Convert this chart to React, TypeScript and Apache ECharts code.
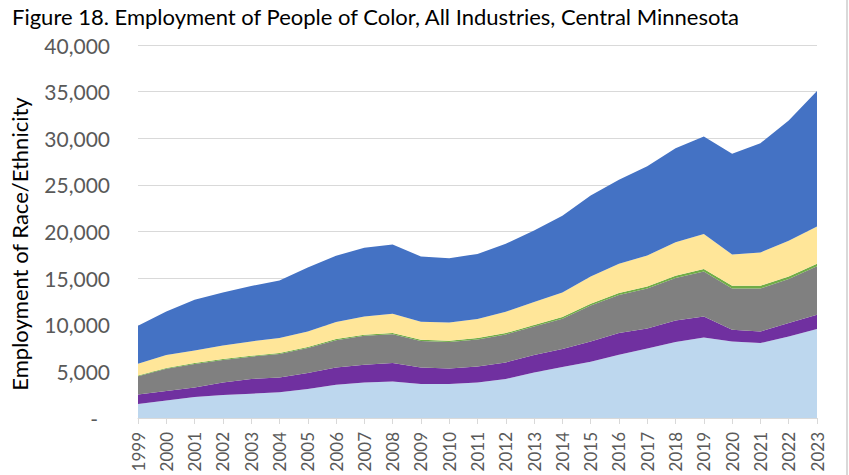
import React, { useEffect, useRef } from "react";
import * as echarts from "echarts";

const years = ["1999","2000","2001","2002","2003","2004","2005","2006","2007","2008","2009","2010","2011","2012","2013","2014","2015","2016","2017","2018","2019","2020","2021","2022","2023"];

const black = [1500,1890,2250,2460,2600,2750,3110,3570,3820,3920,3640,3640,3820,4180,4890,5460,6030,6780,7450,8150,8640,8210,8040,8750,9540];
const amIndian = [1030,1000,1030,1360,1580,1600,1710,1850,1890,1970,1780,1680,1710,1780,1860,1930,2180,2330,2150,2310,2250,1250,1240,1430,1530];
const asian = [1960,2380,2520,2400,2400,2520,2680,2930,3100,3090,2840,2830,2900,3000,3060,3260,3850,4090,4290,4560,4830,4440,4610,4730,5210];
const pacific = [80,90,90,100,100,100,110,120,120,130,130,130,140,150,160,170,190,200,210,230,250,280,290,270,260];
const twoOrMore = [1250,1390,1360,1460,1530,1600,1670,1820,1960,2070,1930,1970,2040,2290,2460,2640,2930,3140,3330,3610,3750,3350,3570,3820,4000];
const hispanic = [4080,4680,5430,5680,5940,6180,6860,7100,7360,7430,7000,6890,6990,7290,7680,8220,8680,9000,9570,10080,10460,10800,11720,12900,14540];

const seriesDefs = [
  { name: "Black or African American", data: black, color: "#BDD7EE" },
  { name: "American Indian and Alaska Native", data: amIndian, color: "#7030A0" },
  { name: "Asian", data: asian, color: "#808080" },
  { name: "Native Hawaiian or Other Pacific Islander", data: pacific, color: "#70AD47" },
  { name: "Two or More Races", data: twoOrMore, color: "#FFE699" },
  { name: "Hispanic or Latino", data: hispanic, color: "#4472C4" },
];

const FONT = "Lato";

export default function App() {
  const ref = useRef<HTMLDivElement>(null);
  useEffect(() => {
    if (!ref.current) return;
    const chart = echarts.init(ref.current, undefined, { renderer: "svg" });
    chart.setOption({
      animation: false,
      backgroundColor: "#ffffff",
      title: {
        text: "Figure 18. Employment of People of Color, All Industries, Central Minnesota",
        left: 12,
        top: 3,
        padding: 0,
        textStyle: { fontFamily: FONT, fontSize: 22, fontWeight: "normal", color: "#000000", lineHeight: 26 },
      },
      grid: { left: 138, right: 32, top: 45, bottom: 57 },
      xAxis: {
        type: "category",
        data: years,
        boundaryGap: false,
        axisLine: { lineStyle: { color: "#d9d9d9", width: 1 } },
        axisTick: { show: true, length: 6, lineStyle: { color: "#d9d9d9" } },
        axisLabel: { rotate: 90, interval: 0, margin: 14, fontFamily: FONT, fontSize: 17, color: "#595959" },
        splitLine: { show: false },
      },
      yAxis: {
        type: "value",
        min: 0,
        max: 40000,
        interval: 5000,
        axisLine: { show: false },
        axisTick: { show: false },
        splitLine: { lineStyle: { color: "#d9d9d9", width: 1 } },
        axisLabel: {
          margin: 28,
          fontFamily: FONT,
          fontSize: 21,
          color: "#595959",
          formatter: (v: number) => (v === 0 ? "{d|-}" : v.toLocaleString("en-US")),
          rich: { d: { fontFamily: FONT, fontSize: 21, color: "#595959", padding: [0, 12, 0, 0] } },
        },
      },
      series: seriesDefs.map((s) => ({
        name: s.name,
        type: "line",
        stack: "total",
        data: s.data,
        showSymbol: false,
        symbol: "none",
        lineStyle: { width: 0 },
        itemStyle: { color: s.color },
        areaStyle: { color: s.color, opacity: 1 },
      })),
      graphic: [
        {
          type: "text",
          x: 19,
          y: 244,
          rotation: Math.PI / 2,
          style: {
            text: "Employment of Race/Ethnicity",
            fontFamily: FONT,
            fontSize: 22,
            fill: "#000000",
            align: "center",
            verticalAlign: "middle",
          },
        },
        { type: "line", shape: { x1: 847, y1: 0, x2: 847, y2: 475 }, style: { stroke: "#d9d9d9", lineWidth: 2 } },
      ],
    });
    return () => chart.dispose();
  }, []);
  return <div ref={ref} style={{ width: 849, height: 475, position: "absolute", left: 0, top: 0 }} />;
}
